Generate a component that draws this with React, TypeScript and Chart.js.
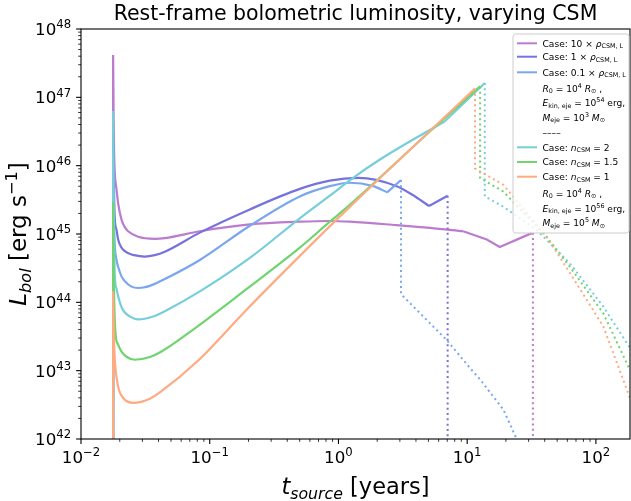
import { useEffect, useRef } from 'react';
import { Chart, registerables } from 'chart.js';

Chart.register(...registerables);

const FONT = '"DejaVu Sans", "Liberation Sans", sans-serif';

// ---- axis ranges ----
const X_MIN = 0.01;
const X_MAX = 184;
const Y_MIN = 1e42;
const Y_MAX = 1e48;
const X_DECADES = [-2, -1, 0, 1, 2];
const Y_DECADES = [42, 43, 44, 45, 46, 47, 48];

// ---- data: time [years], log10 L_bol [erg/s] ----
const tPurple = [0.01776, 0.01776, 0.01792, 0.01808, 0.01831, 0.01888, 0.01943, 0.02064, 0.0219, 0.02323, 0.02778, 0.0374, 0.0448, 0.0838, 0.205, 0.501, 0.857, 1.23, 2.83, 5.13, 9.3, 14.2, 17.9, 32.4];
const logLPurple = [40, 47.62, 46.7, 46.2, 45.89, 45.65, 45.45, 45.21, 45.1, 45.04, 44.96, 44.93, 44.94, 45.04, 45.14, 45.18, 45.19, 45.18, 45.13, 45.09, 45.04, 44.92, 44.81, 45.02];
const tPurpleTail = [32.4, 32.4];
const logLPurpleTail = [45.02, 41.0];

const tBlue = [0.01776, 0.01776, 0.01792, 0.01808, 0.01831, 0.01888, 0.01943, 0.02064, 0.0219, 0.02469, 0.02778, 0.0313, 0.0374, 0.0448, 0.0838, 0.205, 0.501, 0.857, 1.42, 2.83, 3.78, 5.05, 7.05];
const logLBlue = [40, 46.5, 45.9, 45.55, 45.21, 45.06, 44.92, 44.8, 44.75, 44.7, 44.68, 44.67, 44.69, 44.74, 45.02, 45.36, 45.66, 45.78, 45.82, 45.7, 45.57, 45.41, 45.56];
const tBlueTail = [7.05, 7.05];
const logLBlueTail = [45.56, 41.0];

const tLightBlue = [0.01776, 0.01776, 0.01792, 0.01808, 0.01831, 0.01888, 0.01943, 0.02064, 0.0219, 0.02469, 0.02778, 0.0313, 0.0374, 0.0448, 0.0838, 0.205, 0.501, 0.857, 1.23, 1.86, 2.39, 3.06];
const logLLightBlue = [40, 46.2, 45.5, 45.1, 44.82, 44.62, 44.52, 44.38, 44.31, 44.23, 44.21, 44.22, 44.27, 44.34, 44.62, 45.12, 45.55, 45.7, 45.75, 45.7, 45.61, 45.79];
const tLightBlueTail = [3.06, 3.06, 6.92, 10.5, 12.6, 19.1, 24.2, 28.0];
const logLLightBlueTail = [45.79, 44.12, 43.45, 43.04, 42.87, 42.43, 42.0, 41.6];

const tCyan = [0.01776, 0.01776, 0.01792, 0.01808, 0.01831, 0.01888, 0.01943, 0.02064, 0.0219, 0.02469, 0.02778, 0.0313, 0.0374, 0.0448, 0.0838, 0.205, 0.501, 0.857, 1.23, 2.1, 6.71, 13.7];
const logLCyan = [40, 46.8, 45.6, 44.95, 44.38, 44.2, 44.09, 43.93, 43.85, 43.78, 43.75, 43.76, 43.8, 43.87, 44.16, 44.65, 45.23, 45.56, 45.79, 46.09, 46.65, 47.21];
const tCyanTail = [13.7, 13.7, 19.1, 34.6, 62.8, 114, 184];
const logLCyanTail = [47.21, 45.55, 45.4, 45.06, 44.57, 43.94, 43.33];

const tGreen = [0.01776, 0.01776, 0.01792, 0.01808, 0.01854, 0.01943, 0.02064, 0.0227, 0.0262, 0.0343, 0.0422, 0.0767, 0.195, 0.501, 0.857, 1.23, 5.13, 12.6];
const logLGreen = [40, 45.47, 44.6, 44.1, 43.55, 43.38, 43.28, 43.2, 43.16, 43.2, 43.28, 43.62, 44.2, 44.8, 45.18, 45.43, 46.5, 47.16];
const tGreenTail = [12.6, 12.6, 19.1, 41.4, 62.8, 114, 184];
const logLGreenTail = [47.16, 45.82, 45.62, 44.96, 44.52, 43.84, 43.01];

const tOrange = [0.01776, 0.01776, 0.01792, 0.01808, 0.01831, 0.01943, 0.0213, 0.0254, 0.0343, 0.0422, 0.0794, 0.195, 0.501, 1.23, 11.5];
const logLOrange = [40, 44.15, 43.7, 43.4, 43.16, 42.77, 42.6, 42.53, 42.59, 42.7, 43.13, 43.9, 44.68, 45.4, 47.13];
const tOrangeTail = [11.5, 11.5, 19.1, 41.4, 62.8, 114, 184];
const logLOrangeTail = [47.13, 45.96, 45.72, 44.96, 44.43, 43.65, 42.6];

// time after which each solid curve is drawn with straight segments (sharp kinks)
const KINK_FROM = [9.3, 5.05, 2.39, 6.71, Infinity, Infinity];

const C_PURPLE = 'rgb(188,124,206)';
const C_BLUE = 'rgb(118,114,222)';
const C_LBLUE = 'rgb(122,166,240)';
const C_CYAN = 'rgb(118,206,218)';
const C_GREEN = 'rgb(112,212,112)';
const C_ORANGE = 'rgb(255,170,128)';

const SERIES = [
  { color: C_PURPLE, t: tPurple, l: logLPurple, tt: tPurpleTail, lt: logLPurpleTail },
  { color: C_BLUE, t: tBlue, l: logLBlue, tt: tBlueTail, lt: logLBlueTail },
  { color: C_LBLUE, t: tLightBlue, l: logLLightBlue, tt: tLightBlueTail, lt: logLLightBlueTail },
  { color: C_CYAN, t: tCyan, l: logLCyan, tt: tCyanTail, lt: logLCyanTail },
  { color: C_GREEN, t: tGreen, l: logLGreen, tt: tGreenTail, lt: logLGreenTail },
  { color: C_ORANGE, t: tOrange, l: logLOrange, tt: tOrangeTail, lt: logLOrangeTail },
];

type Seg = { s: string; it?: boolean; sub?: boolean; sup?: boolean };

const LEGEND_ROWS: { color?: string; segs: Seg[] }[] = [
  { color: C_PURPLE, segs: [{ s: 'Case: 10 × ' }, { s: 'ρ', it: true }, { s: 'CSM, L', sub: true }] },
  { color: C_BLUE, segs: [{ s: 'Case: 1 × ' }, { s: 'ρ', it: true }, { s: 'CSM, L', sub: true }] },
  { color: C_LBLUE, segs: [{ s: 'Case: 0.1 × ' }, { s: 'ρ', it: true }, { s: 'CSM, L', sub: true }] },
  { segs: [{ s: 'R', it: true }, { s: '0', sub: true }, { s: ' = 10' }, { s: '4', sup: true }, { s: ' ' }, { s: 'R', it: true }, { s: '⊙', sub: true }, { s: ' ,' }] },
  { segs: [{ s: 'E', it: true }, { s: 'kin, eje', sub: true }, { s: ' = 10' }, { s: '54', sup: true }, { s: ' erg,' }] },
  { segs: [{ s: 'M', it: true }, { s: 'eje', sub: true }, { s: ' = 10' }, { s: '3', sup: true }, { s: ' ' }, { s: 'M', it: true }, { s: '⊙', sub: true }] },
  { segs: [{ s: '––––' }] },
  { color: C_CYAN, segs: [{ s: 'Case: ' }, { s: 'n', it: true }, { s: 'CSM', sub: true }, { s: ' = 2' }] },
  { color: C_GREEN, segs: [{ s: 'Case: ' }, { s: 'n', it: true }, { s: 'CSM', sub: true }, { s: ' = 1.5' }] },
  { color: C_ORANGE, segs: [{ s: 'Case: ' }, { s: 'n', it: true }, { s: 'CSM', sub: true }, { s: ' = 1' }] },
  { segs: [{ s: 'R', it: true }, { s: '0', sub: true }, { s: ' = 10' }, { s: '4', sup: true }, { s: ' ' }, { s: 'R', it: true }, { s: '⊙', sub: true }, { s: ' ,' }] },
  { segs: [{ s: 'E', it: true }, { s: 'kin, eje', sub: true }, { s: ' = 10' }, { s: '56', sup: true }, { s: ' erg,' }] },
  { segs: [{ s: 'M', it: true }, { s: 'eje', sub: true }, { s: ' = 10' }, { s: '5', sup: true }, { s: ' ' }, { s: 'M', it: true }, { s: '⊙', sub: true }] },
];
const LEGEND_Y = [43.3, 56.7, 72.3, 88.3, 102.7, 117.3, 132.7, 147.3, 162, 176.7, 193.3, 208.3, 222.7];

function segFont(seg: Seg, size: number) {
  const sz = seg.sub || seg.sup ? size * 0.7 : size;
  return `${seg.it ? 'italic ' : ''}${sz}px ${FONT}`;
}

function richWidth(ctx: CanvasRenderingContext2D, segs: Seg[], size: number) {
  let w = 0;
  for (const s of segs) {
    ctx.font = segFont(s, size);
    w += ctx.measureText(s.s).width;
  }
  return w;
}

function drawRich(ctx: CanvasRenderingContext2D, segs: Seg[], x: number, y: number, size: number, align: 'left' | 'center' | 'right') {
  const w = richWidth(ctx, segs, size);
  let cx = align === 'center' ? x - w / 2 : align === 'right' ? x - w : x;
  ctx.textAlign = 'left';
  ctx.textBaseline = 'alphabetic';
  for (const s of segs) {
    ctx.font = segFont(s, size);
    const dy = s.sub ? size * 0.2 : s.sup ? -size * 0.4 : 0;
    ctx.fillText(s.s, cx, y + dy);
    cx += ctx.measureText(s.s).width;
  }
}

function powLabel(exp: number): Seg[] {
  return [{ s: '10' }, { s: exp < 0 ? '−' + Math.abs(exp) : String(exp), sup: true }];
}

const decor = {
  id: 'decor',
  afterDraw(chart: any) {
    const ctx: CanvasRenderingContext2D = chart.ctx;
    const { left, right, top, bottom } = chart.chartArea;
    const xs = chart.scales.x;
    const ys = chart.scales.y;
    ctx.save();
    ctx.fillStyle = '#000';
    ctx.strokeStyle = '#000';

    // ticks
    const TICK_SIZE = 16.7;
    ctx.lineWidth = 1.1;
    for (const d of X_DECADES) {
      const px = xs.getPixelForValue(Math.pow(10, d));
      ctx.beginPath();
      ctx.moveTo(px, bottom);
      ctx.lineTo(px, bottom + 4.9);
      ctx.stroke();
      drawRich(ctx, powLabel(d), px, 463, TICK_SIZE, 'center');
    }
    for (const d of Y_DECADES) {
      const py = ys.getPixelForValue(Math.pow(10, d));
      ctx.beginPath();
      ctx.moveTo(left, py);
      ctx.lineTo(left - 4.9, py);
      ctx.stroke();
      drawRich(ctx, powLabel(d), left - 9.8, py + 6.1, TICK_SIZE, 'right');
    }
    ctx.lineWidth = 0.8;
    for (let d = -2; d <= 2; d++) {
      for (let m = 2; m <= 9; m++) {
        const v = m * Math.pow(10, d);
        if (v > X_MAX) continue;
        const px = xs.getPixelForValue(v);
        ctx.beginPath();
        ctx.moveTo(px, bottom);
        ctx.lineTo(px, bottom + 2.8);
        ctx.stroke();
      }
    }
    for (let d = 42; d < 48; d++) {
      for (let m = 2; m <= 9; m++) {
        const py = ys.getPixelForValue(m * Math.pow(10, d));
        ctx.beginPath();
        ctx.moveTo(left, py);
        ctx.lineTo(left - 2.8, py);
        ctx.stroke();
      }
    }

    // frame
    ctx.lineWidth = 1.1;
    ctx.strokeRect(left, top, right - left, bottom - top);

    // title
    ctx.font = `20.5px ${FONT}`;
    ctx.textAlign = 'center';
    ctx.textBaseline = 'alphabetic';
    ctx.fillText('Rest-frame bolometric luminosity, varying CSM', (left + right) / 2, 20);

    // x label
    drawRich(ctx, [{ s: 't', it: true }, { s: 'source', it: true, sub: true }, { s: ' [years]' }], (left + right) / 2, 494, 22.5, 'center');

    // y label
    ctx.save();
    ctx.translate(26, (top + bottom) / 2);
    ctx.rotate(-Math.PI / 2);
    drawRich(ctx, [{ s: 'L', it: true }, { s: 'bol', it: true, sub: true }, { s: ' [erg s' }, { s: '−1', sup: true }, { s: ']' }], 0, 0, 23, 'center');
    ctx.restore();

    // legend
    const LX = 513, LY = 34, LW = 116, LH = 199, R = 2.5;
    ctx.beginPath();
    ctx.moveTo(LX + R, LY);
    ctx.lineTo(LX + LW - R, LY);
    ctx.arcTo(LX + LW, LY, LX + LW, LY + R, R);
    ctx.lineTo(LX + LW, LY + LH - R);
    ctx.arcTo(LX + LW, LY + LH, LX + LW - R, LY + LH, R);
    ctx.lineTo(LX + R, LY + LH);
    ctx.arcTo(LX, LY + LH, LX, LY + LH - R, R);
    ctx.lineTo(LX, LY + R);
    ctx.arcTo(LX, LY, LX + R, LY, R);
    ctx.closePath();
    ctx.fillStyle = 'rgba(255,255,255,0.8)';
    ctx.fill();
    ctx.strokeStyle = '#cccccc';
    ctx.lineWidth = 1;
    ctx.stroke();

    const LS = 9.1;
    LEGEND_ROWS.forEach((row, i) => {
      const yc = LEGEND_Y[i];
      if (row.color) {
        ctx.strokeStyle = row.color;
        ctx.lineWidth = 2;
        ctx.beginPath();
        ctx.moveTo(517, yc);
        ctx.lineTo(537, yc);
        ctx.stroke();
      }
      ctx.fillStyle = '#000';
      drawRich(ctx, row.segs, 542.5, yc + 3.3, LS, 'left');
    });

    ctx.restore();
  },
};

export default function App() {
  const ref = useRef<HTMLCanvasElement>(null);
  useEffect(() => {
    document.body.style.margin = '0';
    const canvas = ref.current!;
    const datasets: any[] = [];
    const line = (pts: { x: number; y: number }[], color: string, k: number, extra: any) => ({
      data: pts,
      borderColor: color,
      backgroundColor: color,
      borderWidth: 2.2,
      showLine: true,
      pointRadius: 0,
      fill: false,
      order: -k,
      ...extra,
    });
    SERIES.forEach((s, k) => {
      const pts = s.t.map((t, i) => ({ x: t, y: Math.pow(10, s.l[i]) }));
      const kink = KINK_FROM[k];
      const smooth = pts.filter((p) => p.x <= kink);
      const sharp = pts.filter((p) => p.x >= kink);
      datasets.push(line(smooth, s.color, k, { cubicInterpolationMode: 'monotone' }));
      if (sharp.length > 1) datasets.push(line(sharp, s.color, k, { tension: 0 }));
      const tail = s.tt.map((t, i) => ({ x: t, y: Math.pow(10, s.lt[i]) }));
      datasets.push(line(tail, s.color, k, { tension: 0, borderWidth: 2, borderDash: [2, 3.3] }));
    });
    const chart = new Chart(canvas, {
      type: 'scatter',
      data: { datasets },
      options: {
        animation: false,
        responsive: false,
        devicePixelRatio: 1,
        events: [],
        layout: { padding: { left: 81, right: 1, top: 29, bottom: 62 } },
        plugins: {
          legend: { display: false },
          title: { display: false },
          tooltip: { enabled: false },
        },
        scales: {
          x: { type: 'logarithmic', min: X_MIN, max: X_MAX, display: false },
          y: { type: 'logarithmic', min: Y_MIN, max: Y_MAX, display: false },
        },
      },
      plugins: [decor],
    } as any);
    return () => chart.destroy();
  }, []);
  return (
    <canvas
      ref={ref}
      width={631}
      height={501}
      style={{ display: 'block', width: '631px', height: '501px' }}
    />
  );
}
